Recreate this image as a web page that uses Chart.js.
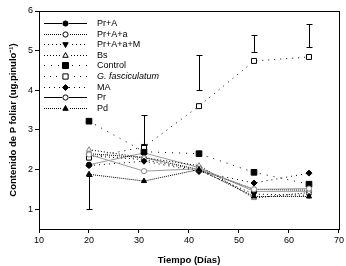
<!DOCTYPE html>
<html><head><meta charset="utf-8">
<script src="https://cdn.jsdelivr.net/npm/chart.js@4/dist/chart.umd.min.js"></script>
<style>html,body{margin:0;padding:0;background:#fff}canvas{display:block}</style>
</head><body>
<canvas id="c" width="346" height="266"></canvas>
<script>
const days = [20, 31, 42, 53, 64];
const prA = [2.12, 2.42, 2.05, 1.45, 1.45];
const prAa = [2.40, 2.30, 2.00, 1.50, 1.48];
const prAaM = [2.35, 2.25, 1.98, 1.38, 1.35];
const bs = [2.50, 2.30, 2.10, 1.28, 1.42];
const control = [3.22, 2.45, 2.40, 1.93, 1.63];
const gFasc = [2.30, 2.57, 3.60, 4.74, 4.84];
const ma = [2.10, 2.21, 1.95, 1.66, 1.91];
const pr = [2.38, 1.96, 2.02, 1.50, 1.52];
const pd = [1.88, 1.71, 2.00, 1.32, 1.32];
const errDays = [20, 31, 42, 53, 64];
const errLow = [1.00, 2.62, 4.00, 4.97, 5.09];
const errHigh = [1.84, 3.37, 4.89, 5.39, 5.67];
const yTicks = [1, 2, 3, 4, 5, 6];
const xTicks = [10, 20, 30, 40, 50, 60, 70];
const seriesNames = ['Pr+A', 'Pr+A+a', 'Pr+A+a+M', 'Bs', 'Control', 'G. fasciculatum', 'MA', 'Pr', 'Pd'];

const pts = arr => days.map((d, i) => ({x: d, y: arr[i]}));
const FONT = '"Liberation Sans", Arial, sans-serif';

const styles = [
  {data: prA, line: '#9a9a9a', dash: [], ps: 'circle', r: 2.6, fill: '#000', stroke: '#000'},
  {data: prAa, line: '#000', dash: [1, 1], ps: 'circle', r: 2.6, fill: '#fff', stroke: '#777'},
  {data: prAaM, line: '#000', dash: [1, 3], ps: 'triangle', rot: 180, r: 3, fill: '#000', stroke: '#000'},
  {data: bs, line: '#000', dash: [1, 2], ps: 'triangle', r: 3, fill: '#fff', stroke: '#888'},
  {data: control, line: '#000', dash: [1, 6], ps: 'rect', r: 4, fill: '#000', stroke: '#000'},
  {data: gFasc, line: '#000', dash: [1, 5], ps: 'rect', r: 3.5, fill: '#fff', stroke: '#000'},
  {data: ma, line: '#000', dash: [1, 4], ps: 'rectRot', r: 3, fill: '#000', stroke: '#000'},
  {data: pr, line: '#9a9a9a', dash: [], ps: 'circle', r: 2.6, fill: '#fff', stroke: '#888'},
  {data: pd, line: '#000', dash: [1, 1], ps: 'triangle', r: 3, fill: '#000', stroke: '#000'}
];

const datasets = styles.map((s, i) => ({
  label: seriesNames[i],
  data: pts(s.data),
  showLine: true,
  borderColor: s.line,
  borderWidth: 1,
  borderDash: s.dash,
  pointStyle: s.ps,
  pointRotation: s.rot || 0,
  pointRadius: s.r,
  pointBackgroundColor: s.fill,
  pointBorderColor: s.stroke,
  pointBorderWidth: 1,
  order: 9 - i
}));

function drawMarker(ctx, s, x, y) {
  ctx.save();
  ctx.fillStyle = s.fill; ctx.strokeStyle = '#000'; ctx.lineWidth = 1;
  ctx.setLineDash([]);
  const r = s.r;
  ctx.beginPath();
  if (s.ps === 'circle') { ctx.arc(x, y, r, 0, Math.PI * 2); }
  else if (s.ps === 'rect') { const h = r * 0.75; ctx.rect(x - h, y - h, 2 * h, 2 * h); }
  else if (s.ps === 'rectRot') { ctx.moveTo(x, y - r); ctx.lineTo(x + r, y); ctx.lineTo(x, y + r); ctx.lineTo(x - r, y); ctx.closePath(); }
  else if (s.ps === 'triangle') {
    const d = s.rot === 180 ? -1 : 1;
    ctx.moveTo(x, y - d * r); ctx.lineTo(x + r * 0.9, y + d * r * 0.6); ctx.lineTo(x - r * 0.9, y + d * r * 0.6); ctx.closePath();
  }
  ctx.fill(); ctx.stroke();
  ctx.restore();
}

const extras = {
  id: 'extras',
  afterDatasetsDraw(chart) {
    const ctx = chart.ctx, xs = chart.scales.x, ys = chart.scales.y, a = chart.chartArea;
    ctx.save();
    ctx.strokeStyle = '#000'; ctx.lineWidth = 1; ctx.setLineDash([]);
    errDays.forEach((d, i) => {
      const x = Math.round(xs.getPixelForValue(d)) + 0.5;
      const y1 = ys.getPixelForValue(errLow[i]), y2 = ys.getPixelForValue(errHigh[i]);
      ctx.beginPath();
      ctx.moveTo(x, y1); ctx.lineTo(x, y2);
      ctx.moveTo(x - 3, Math.round(y1) + 0.5); ctx.lineTo(x + 3, Math.round(y1) + 0.5);
      ctx.moveTo(x - 3, Math.round(y2) + 0.5); ctx.lineTo(x + 3, Math.round(y2) + 0.5);
      ctx.stroke();
    });
    ctx.strokeRect(Math.round(a.left) + 0.5, Math.round(a.top) + 0.5, Math.round(a.right - a.left), Math.round(a.bottom - a.top));
    const lx1 = 44, lx2 = 87, tx = 97;
    styles.forEach((s, i) => {
      const y = Math.round(23 + i * 10.6) + 0.5;
      ctx.save();
      ctx.strokeStyle = '#000'; ctx.lineWidth = 1;
      ctx.setLineDash(s.dash);
      ctx.beginPath(); ctx.moveTo(lx1, y); ctx.lineTo(lx2, y); ctx.stroke();
      ctx.restore();
      ctx.fillStyle = '#fff';
      ctx.fillRect(62, y - 4, 7, 8);
      drawMarker(ctx, s, 65.5, y);
      ctx.fillStyle = '#000';
      ctx.font = (i === 5 ? 'italic ' : '') + '9px ' + FONT;
      ctx.textBaseline = 'middle'; ctx.textAlign = 'left';
      ctx.fillText(seriesNames[i], tx, y);
    });
    ctx.restore();
  }
};

new Chart(document.getElementById('c'), {
  type: 'scatter',
  data: {datasets},
  options: {
    responsive: false,
    animation: false,
    layout: {padding: {top: 11, right: 3, left: 0, bottom: 0}},
    plugins: {legend: {display: false}, tooltip: {enabled: false}},
    scales: {
      x: {
        type: 'linear', min: 10, max: 70,
        afterBuildTicks: s => { s.ticks = xTicks.map(v => ({value: v})); },
        afterFit: s => { s.height = 37; },
        grid: {drawOnChartArea: false, drawTicks: true, tickLength: 4, color: '#000'},
        border: {color: '#000', width: 1},
        ticks: {color: '#000', font: {family: FONT, size: 9}, padding: 2, maxRotation: 0},
        title: {display: true, text: 'Tiempo (Días)', color: '#000', font: {family: FONT, size: 9.5, weight: 'bold'}, padding: {top: 5, bottom: 0}}
      },
      y: {
        type: 'linear', min: 0.5, max: 6,
        afterBuildTicks: s => { s.ticks = yTicks.map(v => ({value: v})); },
        afterFit: s => { s.width = 39; },
        grid: {drawOnChartArea: false, drawTicks: true, tickLength: 4, color: '#000'},
        border: {color: '#000', width: 1},
        ticks: {color: '#000', font: {family: FONT, size: 9}, padding: 2},
        title: {display: true, text: 'Contenido de P foliar (ug.pinulo⁻¹)', color: '#000', font: {family: FONT, size: 9.5, weight: 'bold'}, padding: {top: 8, bottom: 0}}
      }
    }
  },
  plugins: [extras]
});
</script>
</body></html>
